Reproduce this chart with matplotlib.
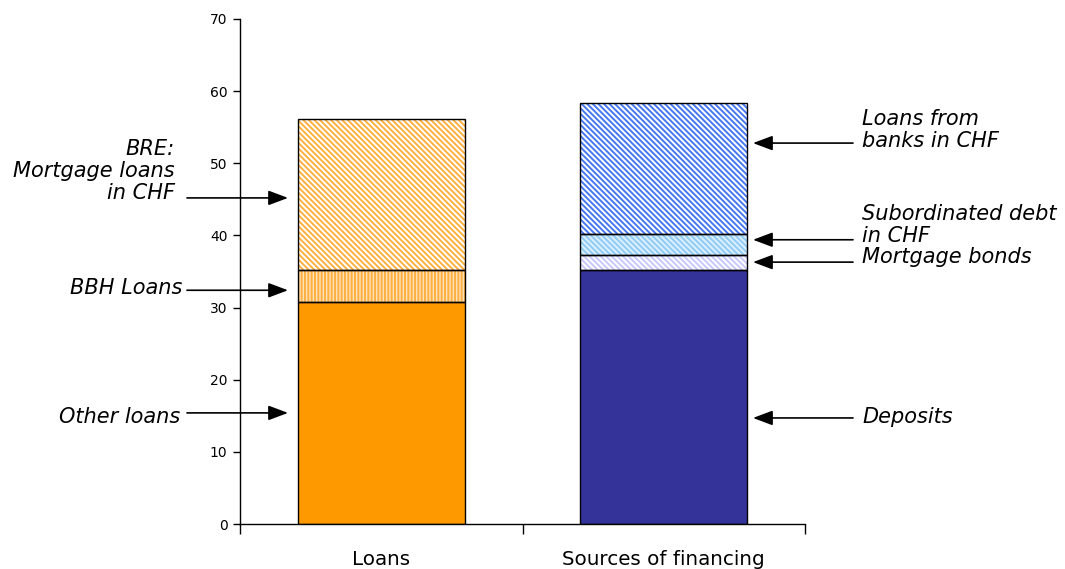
import matplotlib
matplotlib.use("Agg")
import matplotlib.pyplot as plt
from matplotlib.transforms import blended_transform_factory, offset_copy
import numpy as np

categories = ["Loans", "Sources of financing"]

# Loans side (bottom to top)
loans_labels = ["Other loans", "BBH Loans", "BRE:\nMortgage loans\nin CHF"]
loans_values = [30.8, 4.4, 20.9]
loans_arrow_y = [15.4, 32.4, 45.2]

# Financing side (bottom to top)
fin_labels = ["Deposits", "Mortgage bonds", "Subordinated debt\nin CHF", "Loans from\nbanks in CHF"]
fin_values = [35.2, 2.1, 2.9, 18.2]
fin_arrow_y = [14.7, 36.3, 39.4, 52.8]

yticks = [0, 10, 20, 30, 40, 50, 60, 70]

plt.rcParams['font.family'] = ['DejaVu Sans']
plt.rcParams['hatch.linewidth'] = 1.4

fig = plt.figure(figsize=(10.65, 5.69), dpi=100)
ax = fig.add_axes([240/1065, 1-524/569, (805-240)/1065, (524-19)/569])

width = 0.59
diag = "\\" * 6
loan_styles = [("#FF9900", None, None), ("#FFE2B8", "|||||", "#FFB040"), ("white", diag, "#FFB040")]
fin_styles = [("#333399", None, None), ("white", diag, "#C8C8FF"), ("#DDF0FF", diag, "#8FCBF5"), ("white", diag, "#4577EE")]

def draw_stack(x, values, styles):
    bottom = 0
    for v, (fc, hatch, hc) in zip(values, styles):
        if hatch:
            ax.bar(x, v, width, bottom=bottom, color=fc, hatch=hatch, edgecolor=hc, linewidth=0, zorder=2)
        else:
            ax.bar(x, v, width, bottom=bottom, color=fc, linewidth=0, zorder=2)
        ax.bar(x, v, width, bottom=bottom, fill=False, edgecolor="black", linewidth=1.0, zorder=3)
        bottom += v

draw_stack(0, loans_values, loan_styles)
draw_stack(1, fin_values, fin_styles)

ax.set_xlim(-0.5, 1.5)
ax.set_ylim(0, 70)
ax.set_yticks(yticks)
ax.tick_params(axis='y', direction='out', length=5, width=1, labelsize=10, pad=4)
ax.set_xticks([-0.5, 0.5, 1.5])
ax.set_xticklabels([])
ax.tick_params(axis='x', which='major', direction='out', length=7, width=1)
ax.set_xticks([0, 1], minor=True)
ax.set_xticklabels(categories, minor=True, fontsize=14.3)
ax.tick_params(axis='x', which='minor', length=0, pad=19)
for s in ["top", "right"]:
    ax.spines[s].set_visible(False)
for s in ["left", "bottom"]:
    ax.spines[s].set_linewidth(1)

tr = blended_transform_factory(fig.transFigure, ax.transData)
afs = 15
line_px = 22
arrowprops = dict(arrowstyle="-|>,head_length=1.2,head_width=0.45", color="black", lw=1.2, shrinkA=0, shrinkB=0)

def put_label(xfig, y, lab, ha, last_baseline_px):
    lines = lab.split("\n")
    n = len(lines)
    for i, line in enumerate(lines):
        dy_px = last_baseline_px - (n - 1 - i) * line_px
        t = offset_copy(tr, fig=fig, x=0, y=-dy_px * 72 / fig.dpi, units='points')
        ax.text(xfig, y, line, transform=t, ha=ha, va="baseline", fontsize=afs, style="italic")

# Left annotations (baseline offset of last line below arrow, in pixels)
left_base = [10, 4, 1]
left_x = [180, 182, 175]
for lab, y, b, lx in zip(loans_labels, loans_arrow_y, left_base, left_x):
    ax.annotate("", xy=(288/1065, y), xytext=(187/1065, y), xycoords=tr, textcoords=tr, arrowprops=arrowprops)
    put_label(lx/1065, y, lab, "right", b)

# Right annotations
right_base = [5, 1, 2, 4]
for lab, y, b in zip(fin_labels, fin_arrow_y, right_base):
    ax.annotate("", xy=(753/1065, y), xytext=(853/1065, y), xycoords=tr, textcoords=tr, arrowprops=arrowprops)
    put_label(862/1065, y, lab, "left", b)

fig.savefig("out.png", dpi=100)
